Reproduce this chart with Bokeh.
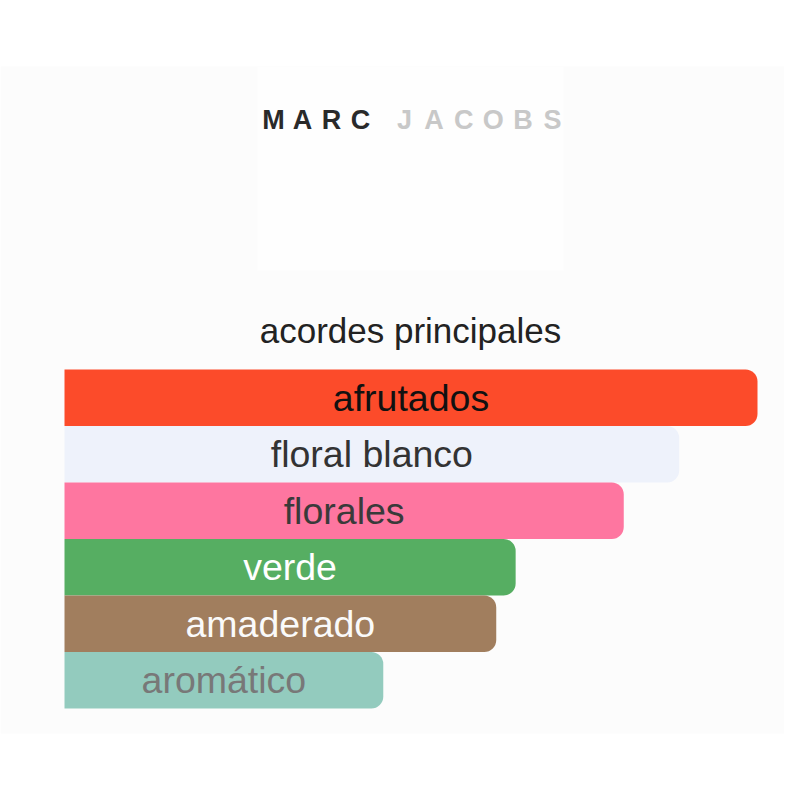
from bokeh.plotting import figure
from bokeh.models import Range1d, ColumnDataSource
from bokeh.core.properties import value
from bokeh.embed import file_html
from bokeh.resources import INLINE

# ---- data ----
accords = ["afrutados", "floral blanco", "florales", "verde", "amaderado", "aromático"]
strengths = [100, 88.7, 80.7, 65.1, 62.3, 46.0]
bar_colors = ["#FC4B2A", "#EEF2FB", "#FE76A0", "#56AE62", "#A17E5E", "#93CBBE"]
text_colors = ["#111111", "#333333", "#3a3a3a", "#ffffff", "#fafafa", "#787878"]
title_text = "acordes principales"
brand_dark = "MARC"
brand_light = "JACOBS"

# ---- layout (page pixels) ----
W = H = 784
OFF = 0
BAR_LEFT_PX = 64
PX_PER_UNIT = 6.93
ROW_PX = 56.5
ROW0_CENTER_PX = 397.25

def px_x(px):
    return (px - BAR_LEFT_PX) / PX_PER_UNIT

def px_y(py):
    return (py - ROW0_CENTER_PX) / ROW_PX

p = figure(width=W, height=H, output_backend="svg", toolbar_location=None,
           x_range=Range1d(px_x(OFF), px_x(OFF + W)),
           y_range=Range1d(px_y(OFF + H), px_y(OFF)),
           min_border=0, background_fill_color="white", border_fill_color="white")
p.axis.visible = False
p.grid.visible = False
p.outline_line_color = None

# faint background panels
p.quad(left=[px_x(OFF)], right=[px_x(OFF + W)], top=[px_y(66)], bottom=[px_y(733)],
       fill_color="#fcfcfc", line_color=None)
p.quad(left=[px_x(257)], right=[px_x(563)], top=[px_y(66)], bottom=[px_y(270)],
       fill_color="#fefefe", line_color=None)

# bars
idx = list(range(len(accords)))
src = ColumnDataSource(dict(
    y=idx, right=strengths, color=bar_colors, tcolor=text_colors, label=accords,
    mid=[v / 2 for v in strengths]))
p.hbar(y="y", left=0, right="right", height=1.0, fill_color="color", line_color=None,
       source=src, border_radius=(0, 12, 12, 0))
p.text(x="mid", y="y", text="label", text_color="tcolor", source=src,
       text_align="center", text_baseline="middle",
       text_font=value("Liberation Sans"), text_font_size="37.5px")

# title
p.text(x=[px_x(410)], y=[px_y(330)], text=[title_text], text_align="center",
       text_baseline="middle", text_color="#222222",
       text_font=value("Liberation Sans"), text_font_size="35px")

# brand logo, letter-spaced
dark_x = [px_x(273 + 29 * i) for i in range(len(brand_dark))]
light_x = [px_x(404 + 29.6 * i) for i in range(len(brand_light))]
p.text(x=dark_x, y=[px_y(119)] * len(brand_dark), text=list(brand_dark),
       text_align="center", text_baseline="middle", text_color="#2a2a2a",
       text_font=value("Liberation Sans"), text_font_size="27px", text_font_style="bold")
p.text(x=light_x, y=[px_y(119)] * len(brand_light), text=list(brand_light),
       text_align="center", text_baseline="middle", text_color="#c8c8c8",
       text_font=value("Liberation Sans"), text_font_size="27px", text_font_style="bold")

open("out.html", "w").write(file_html(p, INLINE))
